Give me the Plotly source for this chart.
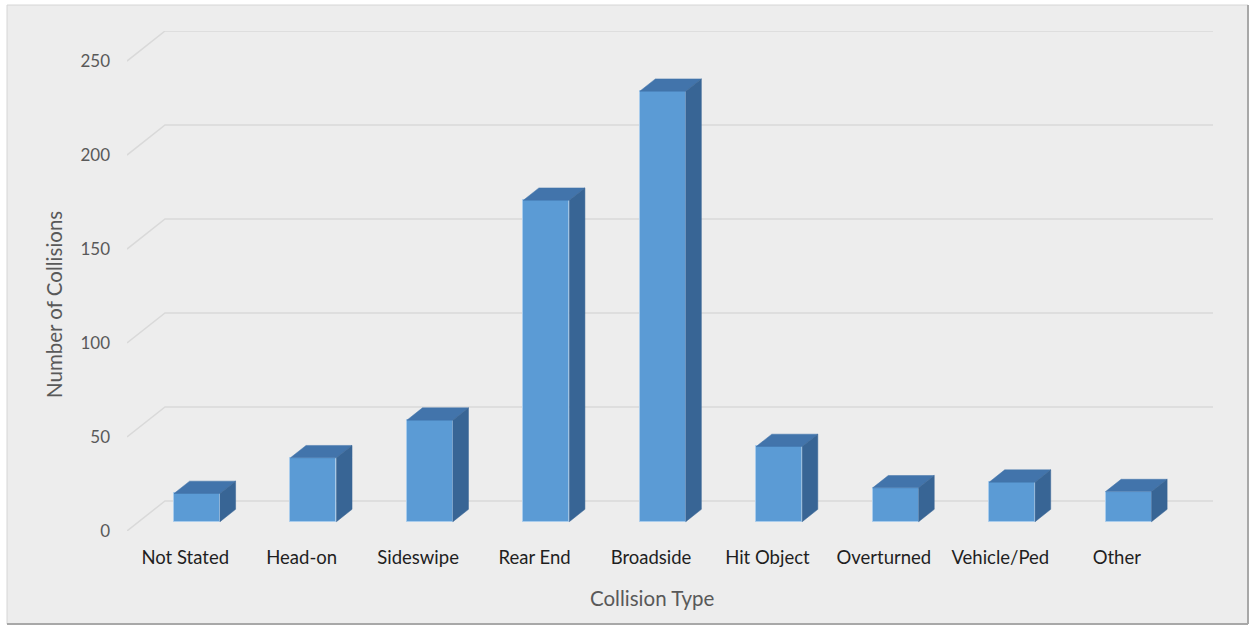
import plotly.graph_objects as go

# ---- data ----
categories = ["Not Stated", "Head-on", "Sideswipe", "Rear End", "Broadside",
              "Hit Object", "Overturned", "Vehicle/Ped", "Other"]
collisions = [15, 34, 54, 171, 229, 40, 18, 21, 16]
y_ticks = [0, 50, 100, 150, 200, 250]

# ---- 3D oblique projection parameters (in axis units) ----
DX = 0.3265      # full floor depth, x units
DY = 16.0        # full floor depth, y units
FRONT = 0.31     # bar front plane (fraction of depth)
BDEPTH = 0.41    # bar depth (fraction of depth)
BW = 0.395       # bar width

W, H = 1258, 626
ML, MR, MT, MB = 127, 45, 31, 95
PW, PH = W - ML - MR, H - MT - MB

def px2paper(px, py):
    return (px - ML) / PW, (H - MB - py) / PH

fig = go.Figure()

xs = [i + FRONT * DX for i in range(len(categories))]
base = FRONT * DY
d_x = BDEPTH * DX
d_y = BDEPTH * DY

# front faces
fig.add_trace(go.Bar(
    x=xs, y=collisions, base=base, width=BW,
    marker=dict(color="#5B9BD5", line=dict(color="#A9CCEC", width=1)),
    showlegend=False, hoverinfo="skip"))

# top and side faces
tx, ty = [], []
sx, sy = [], []
for xc, v in zip(xs, collisions):
    x0, x1 = xc - BW / 2, xc + BW / 2
    top = base + v
    tx += [x0, x1, x1 + d_x, x0 + d_x, x0, None]
    ty += [top, top, top + d_y, top + d_y, top, None]
    sx += [x1, x1 + d_x, x1 + d_x, x1, x1, None]
    sy += [base, base + d_y, top + d_y, top, base, None]

fig.add_trace(go.Scatter(x=tx, y=ty, fill="toself", mode="lines",
                         fillcolor="#4274AB", line=dict(color="#4274AB", width=0.5),
                         showlegend=False, hoverinfo="skip"))
fig.add_trace(go.Scatter(x=sx, y=sy, fill="toself", mode="lines",
                         fillcolor="#386595", line=dict(color="#386595", width=0.5),
                         showlegend=False, hoverinfo="skip"))

n = len(categories)
shapes = []
# chart area background
bx0, by0 = px2paper(7, 5)
bx1, by1 = px2paper(1248, 624)
shapes.append(dict(type="rect", xref="paper", yref="paper", x0=bx0, y0=by1, x1=bx1, y1=by0,
                   fillcolor="#EDEDED", line=dict(color="#D6D6D6", width=1), layer="below"))
# shadow lines right/bottom
shapes.append(dict(type="line", xref="paper", yref="paper", x0=bx1, y0=by1, x1=bx1, y1=by0,
                   line=dict(color="#A8A8A8", width=2), layer="below"))
shapes.append(dict(type="line", xref="paper", yref="paper", x0=bx0, y0=by1, x1=bx1, y1=by1,
                   line=dict(color="#A8A8A8", width=2), layer="below"))
# oblique gridlines
for t in y_ticks:
    shapes.append(dict(type="path", xref="x", yref="y", layer="below",
                       path=f"M {-0.5},{t} L {-0.5 + DX},{t + DY} L {n - 0.5 + DX},{t + DY}",
                       line=dict(color="#D9D9D9", width=1.5)))

font = "Lato, 'Open Sans', sans-serif"
fig.update_layout(
    width=W, height=H,
    margin=dict(l=ML, r=MR, t=MT, b=MB),
    paper_bgcolor="white", plot_bgcolor="rgba(0,0,0,0)",
    shapes=shapes,
    font=dict(family=font),
    xaxis=dict(range=[-0.5, n - 0.5 + DX], tickvals=list(range(n)), ticktext=categories,
               showgrid=False, zeroline=False, showline=False, ticks="",
               tickfont=dict(size=18.5, color="#1F1F1F", family=font),
               ticklabelstandoff=13, fixedrange=True),
    yaxis=dict(range=[0, 266], tickvals=y_ticks, showgrid=False, zeroline=False,
               showline=False, ticks="", tickfont=dict(size=17, color="#595959", family=font),
               ticklabelstandoff=16, fixedrange=True),
    bargap=0,
)

ax, ay = px2paper(652, 598)
fig.add_annotation(text="Collision Type", xref="paper", yref="paper", x=ax, y=ay,
                   showarrow=False, xanchor="center", yanchor="middle",
                   font=dict(size=20.5, color="#595959", family=font))
ax, ay = px2paper(54, 305)
fig.add_annotation(text="Number of Collisions", xref="paper", yref="paper", x=ax, y=ay,
                   showarrow=False, xanchor="center", yanchor="middle", textangle=-90,
                   font=dict(size=20.5, color="#595959", family=font))

fig.write_html("out.html")
